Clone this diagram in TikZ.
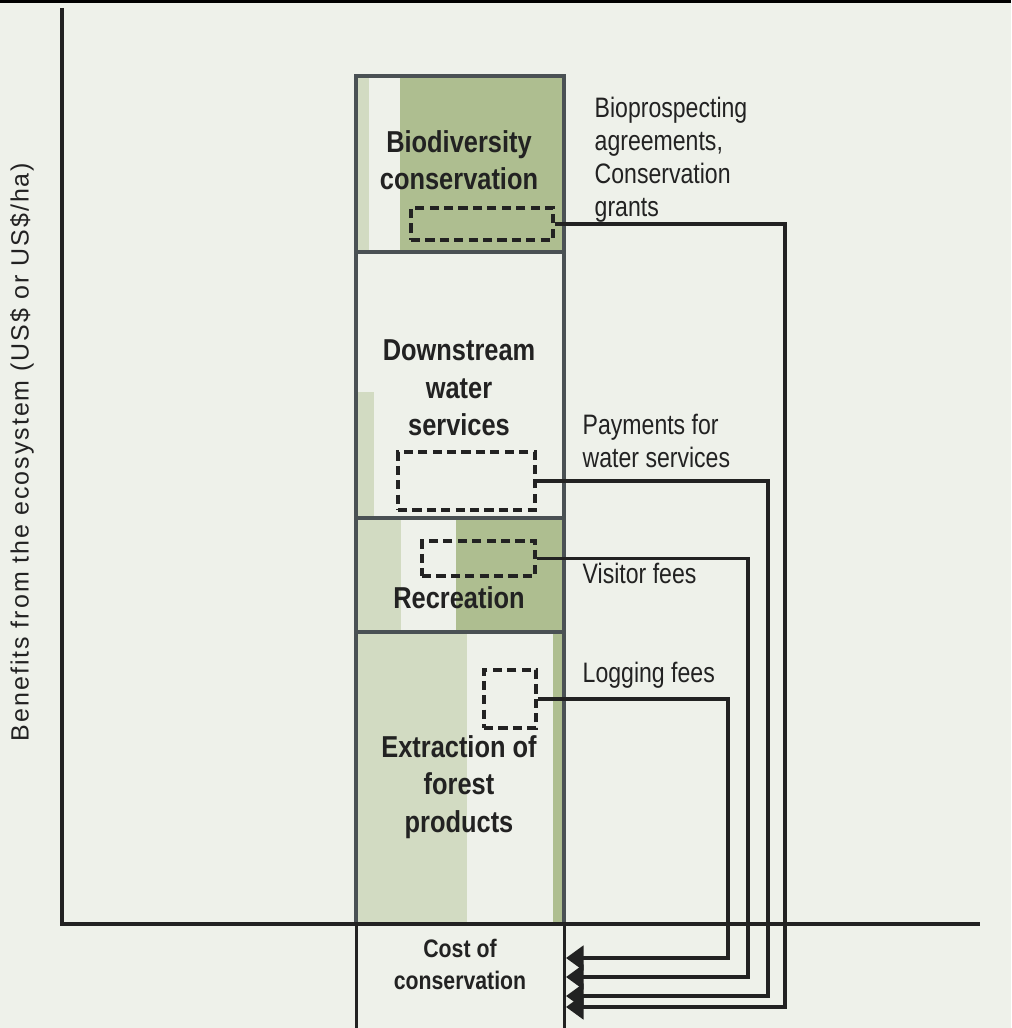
\documentclass[tikz,border=0pt]{standalone}
\usepackage{fontspec}
\setmainfont{Liberation Sans}
\newfontfamily\narrowsans[FakeStretch=0.84]{Liberation Sans}
\newfontfamily\notesans[FakeStretch=0.82]{Liberation Sans}
\newfontfamily\axissans[LetterSpace=8]{Liberation Sans}
\usepackage{xcolor}
\usetikzlibrary{arrows.meta, calc, positioning}

\definecolor{paper}{HTML}{EEF1EA}
\definecolor{darkgreen}{HTML}{AEBE90}
\definecolor{lightgreen}{HTML}{D2DBC2}
\definecolor{edgegray}{HTML}{4A5154}
\definecolor{ink}{HTML}{222222}

\begin{document}
\begin{tikzpicture}[x=0.01cm, y=-0.01cm,
  service/.style={font=\narrowsans\bfseries\fontsize{8.6}{10.6}\selectfont, text=ink, align=center, inner sep=0pt},
  note/.style={font=\notesans\fontsize{8}{9.4}\selectfont, text=ink, align=left, anchor=west, inner sep=0pt},
  feebox/.style={draw=ink, line width=1.1pt, dash pattern=on 2.6pt off 1.5pt, inner sep=0pt},
  pay/.style={draw=ink, line width=0.9pt, -{Triangle[length=5pt,width=7pt]}},
  column/.style={draw=edgegray, line width=1pt},
]
% Page
\fill[paper] (0,0) rectangle (1011,1028);
\useasboundingbox (0,0) rectangle (1011,1028);
\fill[black] (0,0) rectangle (1011,3);

% Shading of the column
\fill[lightgreen] (358,78) rectangle (369,251);
\fill[darkgreen] (400,78) rectangle (562,251);
\fill[lightgreen] (358,392) rectangle (374,517);
\fill[lightgreen] (358,519) rectangle (401,631);
\fill[darkgreen] (456,519) rectangle (562,631);
\fill[lightgreen] (358,633) rectangle (467,922);
\fill[darkgreen] (553,633) rectangle (562,922);

% Column
\draw[column] (356,76) rectangle (564,924);
\draw[column] (356,252) -- (564,252);
\draw[column] (356,518) -- (564,518);
\draw[column] (356,632) -- (564,632);

% Services
\node[service] (bio) at (459,160) {Biodiversity\\conservation};
\node[service] (water) at (459,388) {Downstream\\water\\services};
\node[service] (recr) at (459,598) {Recreation};
\node[service] (extract) at (459,787) {Extraction of\\forest\\products};
\node[service, font=\narrowsans\bfseries\fontsize{7.2}{9.1}\selectfont] (cost) at (460,964) {Cost of\\conservation};

% Fee boxes
\node[feebox, minimum width=1.42cm, minimum height=0.32cm] (biofee) at (482,224) {};
\node[feebox, minimum width=1.37cm, minimum height=0.58cm] (waterfee) at (466.5,481) {};
\node[feebox, minimum width=1.13cm, minimum height=0.35cm] (visitfee) at (478.5,558.5) {};
\node[feebox, minimum width=0.52cm, minimum height=0.58cm] (logfee) at (510,699) {};

% Instruments
\node[note] (bionote) at (594,160) {Bioprospecting\\agreements,\\Conservation\\grants};
\node[note] (waternote) at (582,441) {Payments for\\water services};
\node[note] (visitnote) at (582,573) {Visitor fees};
\node[note] (lognote) at (582,675) {Logging fees};

% Payments back to the cost
\coordinate (bioturn) at (785,1007);
\coordinate (waterturn) at (768,996);
\coordinate (visitturn) at (748,977);
\coordinate (logturn) at (728,958);
\coordinate (bioin) at (566,1007);
\coordinate (waterin) at (566,996);
\coordinate (visitin) at (566,977);
\coordinate (login) at (566,958);
\draw[pay] (biofee.east) -| (bioturn) -- (bioin);
\draw[pay] (waterfee.east) -| (waterturn) -- (waterin);
\draw[pay] (visitfee.east) -| (visitturn) -- (visitin);
\draw[pay] (logfee.east) -| (logturn) -- (login);

% Axes
\draw[ink, line width=1pt] (62,8) -- (62,924) -- (980,924);
\draw[ink, line width=0.85pt] (356,924) -- (356,1028);
\draw[ink, line width=0.85pt] (564,924) -- (564,1028);
\node[rotate=90, font=\axissans\fontsize{7.1}{8}\selectfont, text=ink] (benefit) at (22,452) {Benefits from the ecosystem (US\$ or US\$/ha)};

\end{tikzpicture}
\end{document}
